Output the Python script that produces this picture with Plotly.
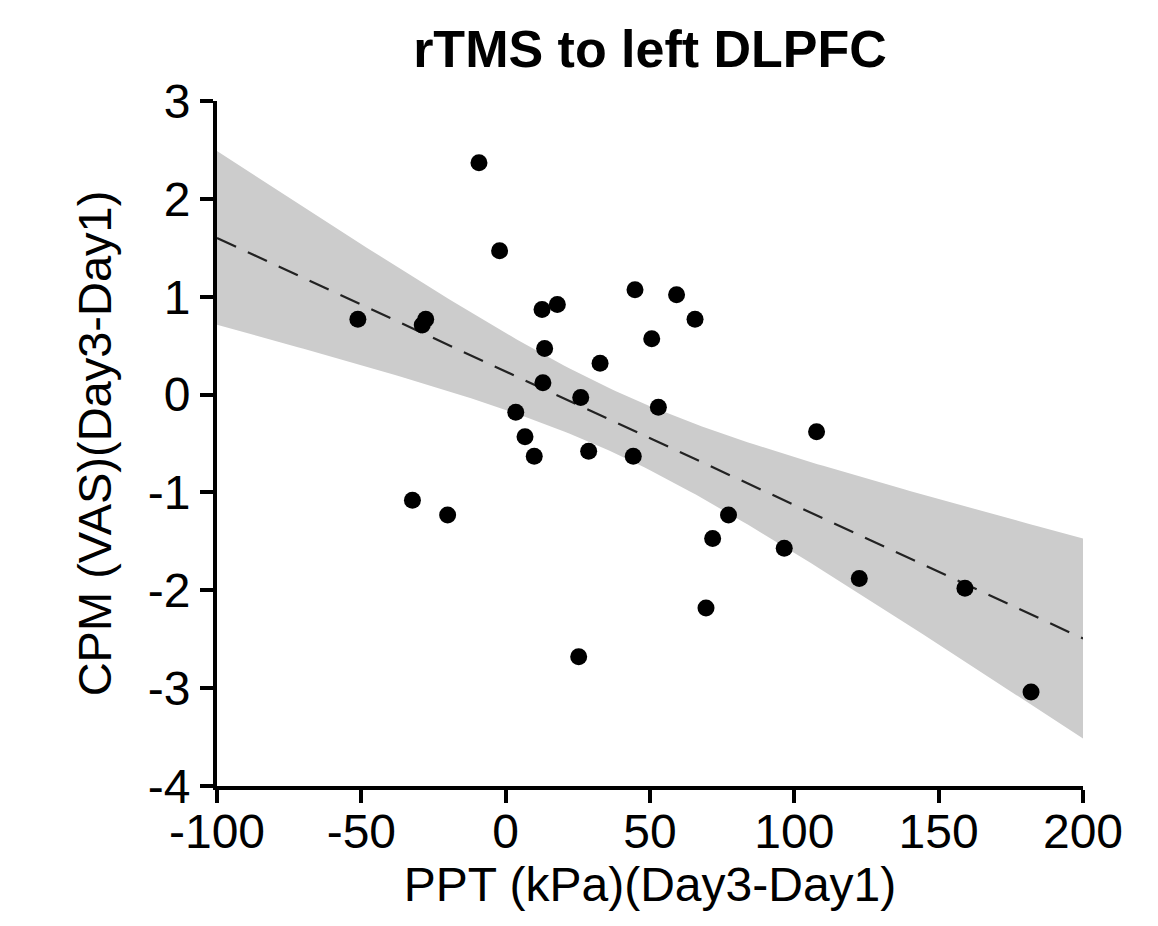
import numpy as np
import plotly.graph_objects as go

# PPT change (kPa) and CPM change (VAS), Day3 - Day1
ppt = [-51.2, -27.7, -28.9, -9.25, -2.1, 12.6, 17.9, 13.5, 12.9, 26.0,
       3.5, 6.7, 9.9, 28.75, 32.7, 44.8, 59.2, 65.6, 50.6, 52.9,
       44.2, 107.7, 77.2, 71.7, 96.5, 122.5, 69.4, -32.3, -20.1, 25.3,
       159.1, 182.0]
cpm = [0.77, 0.77, 0.71, 2.37, 1.47, 0.87, 0.92, 0.47, 0.12, -0.03,
       -0.18, -0.43, -0.63, -0.58, 0.32, 1.07, 1.02, 0.77, 0.57, -0.13,
       -0.63, -0.38, -1.23, -1.47, -1.57, -1.88, -2.18, -1.08, -1.23, -2.68,
       -1.98, -3.04]

x_ticks = [-100, -50, 0, 50, 100, 150, 200]
y_ticks = [-4, -3, -2, -1, 0, 1, 2, 3]
x_range = [-100, 200]
y_range = [-4, 3]
T_CRIT = 1.697  # two-sided 90% t quantile, df = n - 2 = 30

title_text = "rTMS to left DLPFC"
x_title = "PPT (kPa)(Day3-Day1)"
y_title = "CPM (VAS)(Day3-Day1)"

# linear regression with confidence band
x = np.array(ppt)
y = np.array(cpm)
n = len(x)
xm, ym = x.mean(), y.mean()
sxx = ((x - xm) ** 2).sum()
slope = ((x - xm) * (y - ym)).sum() / sxx
intercept = ym - slope * xm
resid = y - (intercept + slope * x)
s = np.sqrt((resid ** 2).sum() / (n - 2))
xg = np.linspace(x_range[0], x_range[1], 151)
yg = intercept + slope * xg
half = T_CRIT * s * np.sqrt(1.0 / n + (xg - xm) ** 2 / sxx)
upper = yg + half
lower = yg - half

FONT = "Arial, Liberation Sans, Helvetica, sans-serif"

fig = go.Figure()
fig.add_trace(go.Scatter(
    x=np.concatenate([xg, xg[::-1]]),
    y=np.concatenate([upper, lower[::-1]]),
    fill="toself", fillcolor="#cccccc", line=dict(width=0),
    mode="lines", hoverinfo="skip", showlegend=False))
fig.add_trace(go.Scatter(
    x=xg, y=yg, mode="lines",
    line=dict(color="#222222", width=2.2, dash="21px,13px"),
    showlegend=False))
fig.add_trace(go.Scatter(
    x=ppt, y=cpm, mode="markers",
    marker=dict(color="black", size=17),
    showlegend=False))

axis_common = dict(
    showgrid=False, zeroline=False, showline=True, linecolor="black",
    linewidth=4, ticks="outside", ticklen=13, tickwidth=4, tickcolor="black",
    tickfont=dict(family=FONT, size=48, color="black"),
)

# page body has an 8px margin: size the figure so it fits the 1158x926 window
W, H = 1150, 918
fig.update_layout(
    width=W, height=H,
    margin=dict(l=209, r=75, t=93, b=140),
    plot_bgcolor="white", paper_bgcolor="white",
    title=dict(text="<b>" + title_text + "</b>", x=0.5, xref="paper",
               y=1 - 41 / H, yref="container", yanchor="middle", xanchor="center",
               font=dict(family=FONT, size=52, color="black")),
    xaxis=dict(range=x_range, tickvals=x_ticks, ticktext=[str(v) for v in x_ticks],
               ticklabelstandoff=-13,
               title=dict(text=x_title, standoff=9,
                          font=dict(family=FONT, size=48, color="black")),
               **axis_common),
    yaxis=dict(range=y_range, tickvals=y_ticks, ticktext=[str(v) for v in y_ticks],
               title=dict(text=y_title, standoff=22,
                          font=dict(family=FONT, size=47, color="black")),
               **axis_common),
)

fig.write_html("out.html")
